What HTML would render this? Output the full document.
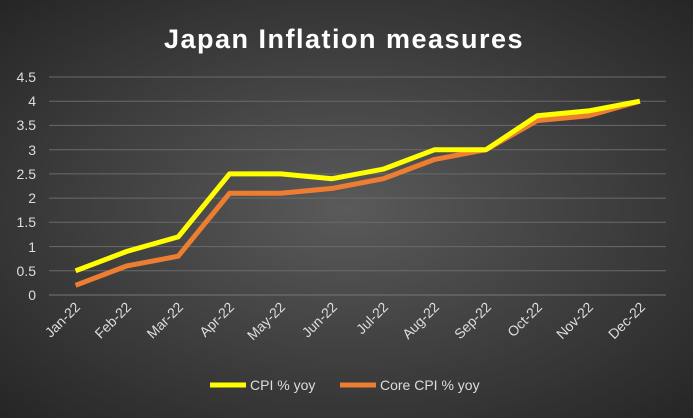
<!DOCTYPE html><html><head><style>body{margin:0}svg{display:block}</style></head><body>
<svg width="693" height="418" xmlns="http://www.w3.org/2000/svg" font-family="Liberation Sans, sans-serif">
<defs><radialGradient id="g" cx="50%" cy="50%" r="70%"><stop offset="0" stop-color="#5a5a5a"/><stop offset="1" stop-color="#262626"/></radialGradient></defs>
<rect width="693" height="418" fill="url(#g)"/>
<text x="344" y="48" text-anchor="middle" fill="#fff" font-size="27" font-weight="bold" letter-spacing="1.5">Japan Inflation measures</text>
<g stroke="#6a6a6a" stroke-width="1">
<line x1="49" x2="666" y1="77" y2="77"/><line x1="49" x2="666" y1="101.2" y2="101.2"/><line x1="49" x2="666" y1="125.4" y2="125.4"/><line x1="49" x2="666" y1="149.7" y2="149.7"/><line x1="49" x2="666" y1="173.9" y2="173.9"/><line x1="49" x2="666" y1="198.1" y2="198.1"/><line x1="49" x2="666" y1="222.3" y2="222.3"/><line x1="49" x2="666" y1="246.6" y2="246.6"/><line x1="49" x2="666" y1="270.8" y2="270.8"/>
</g>
<line x1="49" x2="666" y1="295" y2="295" stroke="#777"/>
<g fill="#ddd" font-size="14" text-anchor="end">
<text x="36" y="82">4.5</text><text x="36" y="106">4</text><text x="36" y="130">3.5</text><text x="36" y="155">3</text><text x="36" y="179">2.5</text><text x="36" y="203">2</text><text x="36" y="227">1.5</text><text x="36" y="252">1</text><text x="36" y="276">0.5</text><text x="36" y="300">0</text>
</g>
<g fill="#ddd" font-size="14" text-anchor="end">
<text transform="translate(81,308) rotate(-45)">Jan-22</text>
<text transform="translate(132,308) rotate(-45)">Feb-22</text>
<text transform="translate(184,308) rotate(-45)">Mar-22</text>
<text transform="translate(235,308) rotate(-45)">Apr-22</text>
<text transform="translate(286,308) rotate(-45)">May-22</text>
<text transform="translate(338,308) rotate(-45)">Jun-22</text>
<text transform="translate(389,308) rotate(-45)">Jul-22</text>
<text transform="translate(440,308) rotate(-45)">Aug-22</text>
<text transform="translate(492,308) rotate(-45)">Sep-22</text>
<text transform="translate(543,308) rotate(-45)">Oct-22</text>
<text transform="translate(594,308) rotate(-45)">Nov-22</text>
<text transform="translate(646,308) rotate(-45)">Dec-22</text>
</g>
<polyline fill="none" stroke="#ed7d31" stroke-width="5" stroke-linejoin="round" points="75.6,285.3 126.9,265.9 178.2,256.2 229.5,193.3 280.8,193.3 332.1,188.4 383.4,178.7 434.7,159.4 486,149.7 537.3,120.6 588.6,115.7 639.9,101.2"/>
<polyline fill="none" stroke="#ffff00" stroke-width="5" stroke-linejoin="round" points="75.6,270.8 126.9,251.4 178.2,236.9 229.5,173.9 280.8,173.9 332.1,178.7 383.4,169.1 434.7,149.7 486,149.7 537.3,115.7 588.6,110.9 639.9,101.2"/>
<line x1="210" x2="246" y1="385" y2="385" stroke="#ffff00" stroke-width="5"/>
<text x="250" y="390" fill="#ddd" font-size="14">CPI % yoy</text>
<line x1="340" x2="376" y1="385" y2="385" stroke="#ed7d31" stroke-width="5"/>
<text x="380" y="390" fill="#ddd" font-size="14">Core CPI % yoy</text>
</svg></body></html>
